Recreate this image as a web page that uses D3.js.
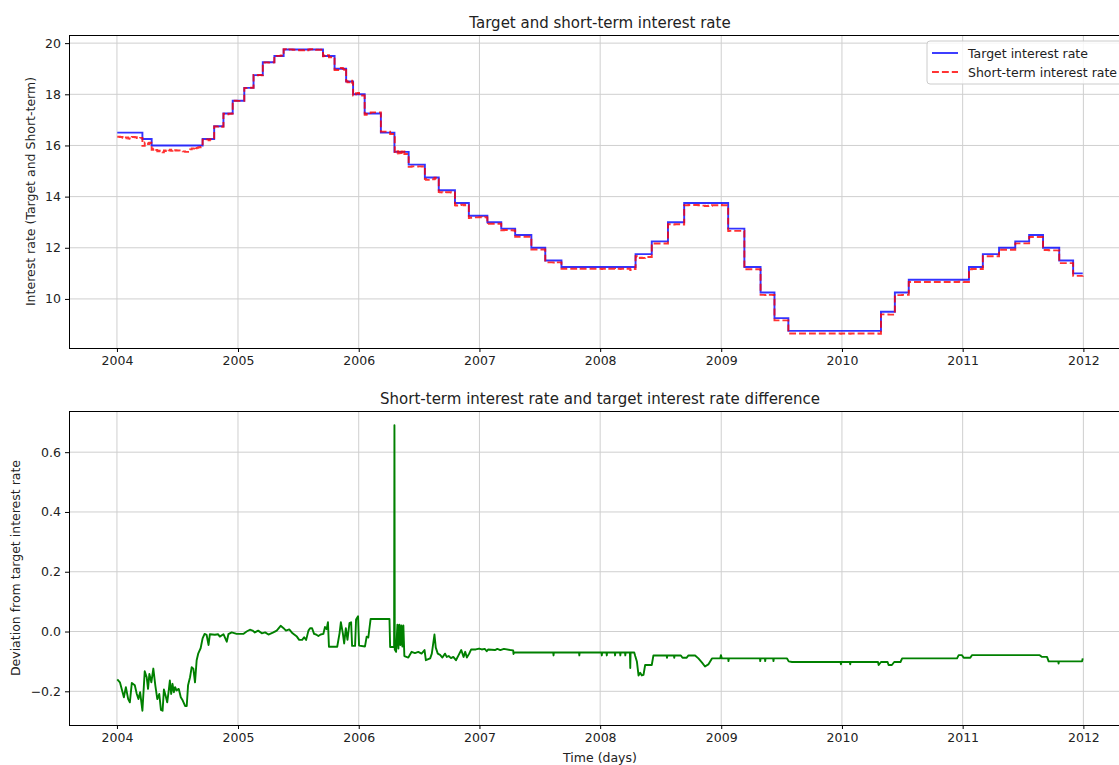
<!DOCTYPE html>
<html>
<head>
<meta charset="utf-8">
<script src="https://cdn.jsdelivr.net/npm/d3@7"></script>
<style>
  body { margin: 0; background: #fff; }
  svg { display: block; font-family: "DejaVu Sans", sans-serif; }
</style>
</head>
<body>
<svg id="chart" width="1119" height="765"></svg>
<script>
// target rate: date the new rate starts, rate in %
const targetDates = [
  "2004-01-02", "2004-03-18", "2004-04-15", "2004-09-16", "2004-10-21", "2004-11-18", "2004-12-16",
  "2005-01-20", "2005-02-17", "2005-03-17", "2005-04-21", "2005-05-19", "2005-09-15", "2005-10-20",
  "2005-11-24", "2005-12-15", "2006-01-19", "2006-03-09", "2006-04-19", "2006-06-01", "2006-07-20",
  "2006-08-31", "2006-10-19", "2006-11-30", "2007-01-25", "2007-03-08", "2007-04-19", "2007-06-07",
  "2007-07-19", "2007-09-06", "2008-04-17", "2008-06-05", "2008-07-24", "2008-09-11", "2009-01-22",
  "2009-03-12", "2009-04-30", "2009-06-11", "2009-07-23", "2010-04-29", "2010-06-10", "2010-07-22",
  "2011-01-20", "2011-03-03", "2011-04-21", "2011-06-09", "2011-07-21", "2011-09-01", "2011-10-20",
  "2011-12-01", "2011-12-30"
];
const targetRates = [
  16.50, 16.25, 16.00, 16.25, 16.75, 17.25, 17.75,
  18.25, 18.75, 19.25, 19.50, 19.75, 19.50, 19.00,
  18.50, 18.00, 17.25, 16.50, 15.75, 15.25, 14.75,
  14.25, 13.75, 13.25, 13.00, 12.75, 12.50, 12.00,
  11.50, 11.25, 11.75, 12.25, 13.00, 13.75, 12.75,
  11.25, 10.25, 9.25, 8.75, 9.50, 10.25, 10.75,
  11.25, 11.75, 12.00, 12.25, 12.50, 12.00, 11.50,
  11.00, 11.00
];

// short-term minus target: [days since 2004-01-01, deviation]
const deviation = [
  [1, -0.160], [9, -0.170], [17, -0.203], [21, -0.220], [27, -0.186], [34, -0.226], [39, -0.237],
  [45, -0.172], [54, -0.180], [60, -0.209], [65, -0.226], [70, -0.203], [77, -0.265], [84, -0.133],
  [90, -0.153], [94, -0.192], [98, -0.142], [104, -0.170], [110, -0.124], [116, -0.180], [122, -0.226],
  [128, -0.209], [133, -0.262], [138, -0.265], [142, -0.194], [147, -0.214], [152, -0.237], [156, -0.203],
  [160, -0.164], [164, -0.209], [168, -0.175], [172, -0.203], [176, -0.186], [180, -0.197], [187, -0.192],
  [193, -0.220], [199, -0.231], [206, -0.249], [211, -0.249], [215, -0.180], [221, -0.153], [226, -0.119],
  [231, -0.124], [236, -0.170], [241, -0.096], [246, -0.073], [253, -0.056], [259, -0.023], [265, -0.008],
  [271, -0.011], [277, -0.045], [281, -0.009], [296, -0.011], [306, -0.009], [311, -0.017], [322, -0.009],
  [332, -0.034], [337, -0.009], [347, -0.003], [362, -0.008], [382, -0.008], [392, 0.000],
  [402, 0.006], [410, 0.003], [417, -0.003], [427, 0.003], [438, -0.006], [448, -0.003], [458, -0.010],
  [473, -0.003], [483, 0.003], [495, 0.019], [503, 0.012], [511, 0.003], [521, 0.007], [531, -0.006],
  [544, -0.017], [551, -0.028], [560, -0.028], [566, -0.019], [572, -0.028], [579, 0.003], [584, 0.011],
  [590, 0.011], [596, -0.008], [602, -0.010], [609, -0.015], [616, -0.010], [624, -0.008], [629, 0.015],
  [634, 0.008], [638, 0.031], [641, -0.051], [666, -0.051], [673, -0.006], [677, 0.031], [683, -0.006],
  [687, -0.040], [692, 0.011], [697, -0.028], [703, 0.028], [708, 0.031], [711, -0.048], [720, -0.048],
  [723, 0.040], [729, 0.051], [732, -0.047], [750, -0.050], [755, -0.017], [760, -0.020], [767, 0.042],
  [824, 0.042], [826, -0.052], [838, -0.052], [839, 0.690], [840, -0.060], [844, -0.068], [848, 0.023],
  [851, -0.057], [854, 0.023], [857, -0.045], [860, 0.020], [863, -0.050], [866, 0.020], [869, -0.082],
  [881, -0.087], [891, -0.068], [901, -0.072], [911, -0.068], [921, -0.074], [930, -0.062], [934, -0.096],
  [947, -0.090], [952, -0.074], [960, -0.010], [964, -0.054], [970, -0.074], [977, -0.078], [984, -0.087],
  [992, -0.074], [997, -0.085], [1003, -0.082], [1010, -0.089], [1017, -0.085], [1025, -0.096],
  [1033, -0.079], [1041, -0.062], [1048, -0.085], [1053, -0.068], [1058, -0.087], [1065, -0.074],
  [1071, -0.060], [1085, -0.060], [1095, -0.057], [1103, -0.060], [1112, -0.058], [1118, -0.066],
  [1122, -0.060], [1143, -0.062], [1150, -0.058], [1159, -0.062], [1170, -0.058], [1189, -0.062],
  [1198, -0.063], [1199, -0.075], [1201, -0.070], [1319, -0.070], [1320, -0.080], [1321, -0.070],
  [1397, -0.070], [1398, -0.080], [1399, -0.070], [1465, -0.070], [1466, -0.080], [1467, -0.070],
  [1480, -0.070], [1481, -0.080], [1482, -0.070], [1505, -0.070], [1506, -0.080], [1507, -0.070],
  [1521, -0.070], [1522, -0.080], [1523, -0.070], [1536, -0.070], [1537, -0.080], [1538, -0.070],
  [1551, -0.070], [1552, -0.122], [1553, -0.070], [1564, -0.070], [1567, -0.082], [1572, -0.100],
  [1577, -0.147], [1582, -0.138], [1587, -0.147], [1592, -0.145], [1597, -0.112], [1617, -0.112],
  [1622, -0.080], [1662, -0.080], [1663, -0.088], [1664, -0.080], [1684, -0.080], [1685, -0.088],
  [1686, -0.080], [1705, -0.080], [1710, -0.088], [1722, -0.088], [1728, -0.080], [1748, -0.080],
  [1758, -0.090], [1769, -0.104], [1778, -0.117], [1788, -0.110], [1799, -0.090], [1824, -0.090],
  [1826, -0.079], [1829, -0.090], [1848, -0.090], [1849, -0.099], [1850, -0.090], [1944, -0.090],
  [1945, -0.099], [1946, -0.090], [1959, -0.090], [1960, -0.099], [1961, -0.090], [1984, -0.090],
  [1985, -0.099], [1986, -0.090], [2026, -0.090], [2031, -0.100], [2041, -0.102], [2188, -0.102],
  [2189, -0.110], [2190, -0.102], [2216, -0.102], [2217, -0.110], [2218, -0.102], [2301, -0.102],
  [2303, -0.112], [2310, -0.102], [2330, -0.102], [2333, -0.112], [2343, -0.112], [2350, -0.102],
  [2369, -0.102], [2374, -0.090], [2540, -0.090], [2545, -0.079], [2555, -0.079], [2560, -0.088],
  [2580, -0.088], [2585, -0.079], [2790, -0.079], [2797, -0.085], [2812, -0.085], [2817, -0.100],
  [2846, -0.100], [2847, -0.107], [2848, -0.100], [2918, -0.100], [2920, -0.090]
];

const yearTicks = [2004, 2005, 2006, 2007, 2008, 2009, 2010, 2011, 2012];
const rateTicks = [10, 12, 14, 16, 18, 20];
const devTicks = [-0.2, 0.0, 0.2, 0.4, 0.6];
const legendLabels = ["Target interest rate", "Short-term interest rate"];

const parse = d3.timeParse("%Y-%m-%d");
const day0 = new Date(2004, 0, 1);

const target = targetDates.map((d, i) => ({ date: parse(d), value: targetRates[i] }));
const diff = deviation.map(([d, v]) => ({ date: d3.timeDay.offset(day0, d), value: v }));

// short-term = target + deviation, both held until the next reading
function lastBefore(series, date) {
  let v = series[0].value;
  for (const p of series) if (p.date <= date) v = p.value;
  return v;
}
const shortDates = Array.from(new Set(target.map(p => +p.date).concat(diff.map(p => +p.date))))
  .sort((a, b) => a - b).map(t => new Date(t));
const shortTerm = shortDates.map(date => ({ date, value: lastBefore(target, date) + lastBefore(diff, date) }));

const svg = d3.select("#chart");
const left = 69, right = 1131;
const textColor = "#222";
const lw = 1.9;
const dash = "6.9,3";

function padded(lo, hi) {
  const p = (hi - lo) * 0.05;
  return [lo - p, hi + p];
}

const tExtent = d3.extent(diff, d => d.date);
const tPad = (tExtent[1] - tExtent[0]) * 0.05;
const x = d3.scaleTime()
  .domain([new Date(+tExtent[0] - tPad), new Date(+tExtent[1] + tPad)])
  .range([left, right]);

const yearDates = yearTicks.map(y => new Date(y, 0, 1));

function drawPanel(top, bottom, y, yTicks, yFormat, title, yLabel, yLabelX) {
  const g = svg.append("g");

  // grid
  g.append("g").selectAll("line")
    .data(yearDates)
    .enter()
    .append("line")
    .attr("x1", d => x(d)).attr("x2", d => x(d))
    .attr("y1", top).attr("y2", bottom)
    .attr("stroke", "#cfcfcf").attr("stroke-width", 1);
  g.append("g").selectAll("line")
    .data(yTicks)
    .enter()
    .append("line")
    .attr("x1", left).attr("x2", right)
    .attr("y1", d => y(d)).attr("y2", d => y(d))
    .attr("stroke", "#cfcfcf").attr("stroke-width", 1);

  const xAxis = g.append("g")
    .attr("transform", "translate(0," + bottom + ")")
    .call(d3.axisBottom(x).tickValues(yearDates).tickFormat(d3.timeFormat("%Y")).tickSize(4).tickPadding(4));
  const yAxis = g.append("g")
    .attr("transform", "translate(" + left + ",0)")
    .call(d3.axisLeft(y).tickValues(yTicks).tickFormat(yFormat).tickSize(4).tickPadding(4));

  [xAxis, yAxis].forEach(a => {
    a.select(".domain").remove();
    a.selectAll("line").attr("stroke", "#000");
    a.selectAll("text").attr("fill", textColor).style("font-size", "12.5px").style("font-family", "DejaVu Sans");
  });

  g.append("text")
    .attr("x", (left + right) / 2)
    .attr("y", top - 7)
    .attr("text-anchor", "middle")
    .attr("fill", textColor)
    .style("font-size", "15px")
    .text(title);

  g.append("text")
    .attr("transform", "translate(" + yLabelX + "," + ((top + bottom) / 2) + ") rotate(-90)")
    .attr("text-anchor", "middle")
    .attr("fill", textColor)
    .style("font-size", "12.5px")
    .text(yLabel);

  return g;
}

// top panel
const topT = 35, topB = 348;
const yRate = d3.scaleLinear()
  .domain(padded(d3.min(shortTerm.concat(target), d => d.value), d3.max(shortTerm.concat(target), d => d.value)))
  .range([topB, topT]);

const gTop = drawPanel(topT, topB, yRate, rateTicks, d3.format("d"),
  "Target and short-term interest rate", "Interest rate (Target and Short-term)", 35);

const stepLine = d3.line()
  .x(d => x(d.date))
  .y(d => yRate(d.value))
  .curve(d3.curveStepAfter);

gTop.append("path")
  .datum(target)
  .attr("d", stepLine)
  .attr("fill", "none")
  .attr("stroke", "#0000ff")
  .attr("stroke-opacity", 0.8)
  .attr("stroke-width", lw);

gTop.append("path")
  .datum(shortTerm)
  .attr("d", stepLine)
  .attr("fill", "none")
  .attr("stroke", "#ff0000")
  .attr("stroke-opacity", 0.8)
  .attr("stroke-width", lw)
  .attr("stroke-dasharray", dash);

gTop.append("rect")
  .attr("x", left).attr("y", topT)
  .attr("width", right - left).attr("height", topB - topT)
  .attr("fill", "none").attr("stroke", "#000").attr("stroke-width", 1)
  .attr("shape-rendering", "crispEdges");

// legend
const legend = gTop.append("g").attr("transform", "translate(927,41)");
legend.append("rect")
  .attr("width", 205).attr("height", 43).attr("rx", 3)
  .attr("fill", "#fff").attr("fill-opacity", 0.8)
  .attr("stroke", "#cccccc");
const legendStyles = [{ color: "#0000ff", dash: null }, { color: "#ff0000", dash: dash }];
legendLabels.forEach((label, i) => {
  const cy = 12 + i * 19;
  legend.append("line")
    .attr("x1", 5).attr("x2", 31).attr("y1", cy).attr("y2", cy)
    .attr("stroke", legendStyles[i].color).attr("stroke-opacity", 0.8)
    .attr("stroke-width", lw)
    .attr("stroke-dasharray", legendStyles[i].dash);
  legend.append("text")
    .attr("x", 41).attr("y", cy + 4.5)
    .attr("fill", textColor)
    .style("font-size", "12.5px")
    .text(label);
});

// bottom panel
const botT = 411, botB = 725;
const yDev = d3.scaleLinear()
  .domain(padded(d3.min(diff, d => d.value), d3.max(diff, d => d.value)))
  .range([botB, botT]);

const gBot = drawPanel(botT, botB, yDev, devTicks, v => d3.format(".1f")(v).replace("-", "\u2212"),
  "Short-term interest rate and target interest rate difference", "Deviation from target interest rate", 20);

gBot.append("path")
  .datum(diff)
  .attr("d", d3.line().x(d => x(d.date)).y(d => yDev(d.value)))
  .attr("fill", "none")
  .attr("stroke", "#008000")
  .attr("stroke-width", lw)
  .attr("stroke-linejoin", "round");

gBot.append("rect")
  .attr("x", left).attr("y", botT)
  .attr("width", right - left).attr("height", botB - botT)
  .attr("fill", "none").attr("stroke", "#000").attr("stroke-width", 1)
  .attr("shape-rendering", "crispEdges");

gBot.append("text")
  .attr("x", (left + right) / 2)
  .attr("y", 762)
  .attr("text-anchor", "middle")
  .attr("fill", textColor)
  .style("font-size", "12.5px")
  .text("Time (days)");
</script>
</body>
</html>
